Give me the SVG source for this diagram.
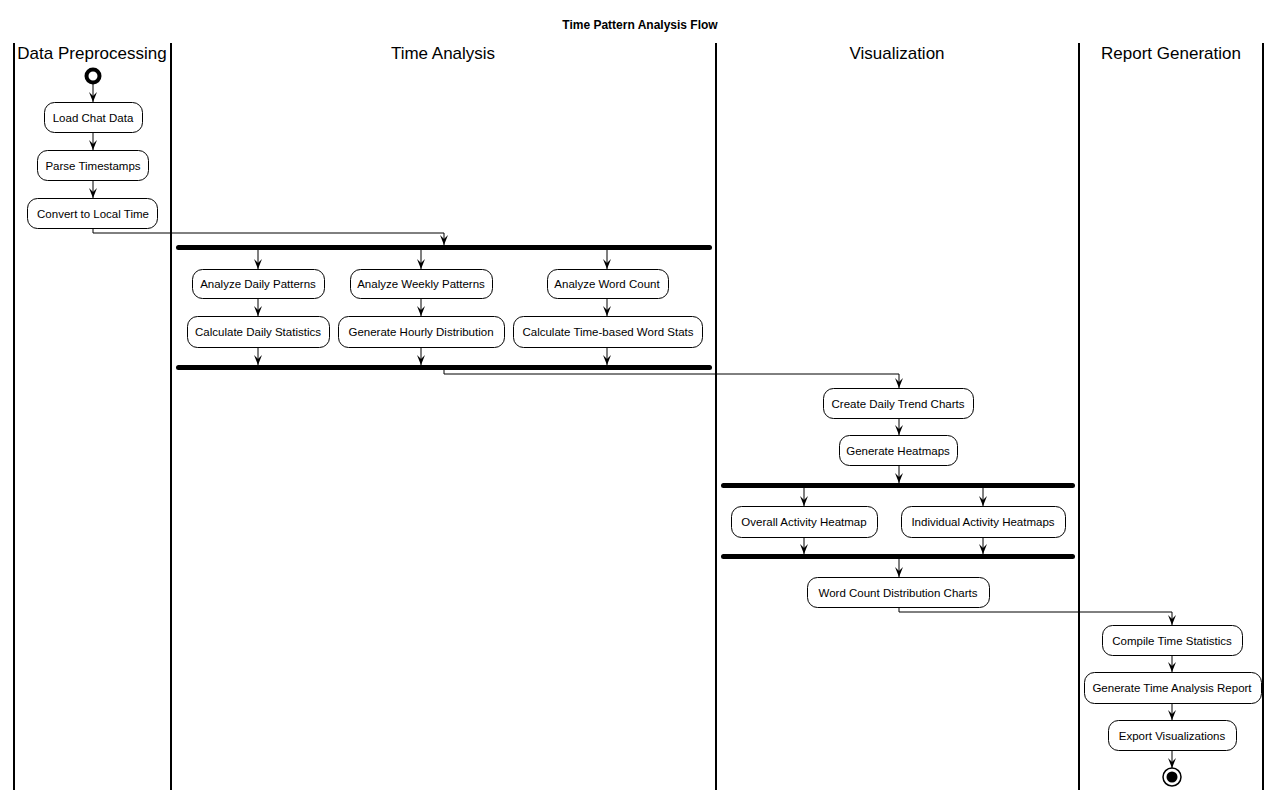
<svg xmlns="http://www.w3.org/2000/svg" width="1280" height="797" viewBox="0 0 1280 797">
<defs>
<style>
.lane{stroke:#000;stroke-width:2;fill:none}
.hdr{font-family:"Liberation Sans",Arial,sans-serif;font-size:17px;text-anchor:middle;fill:#000}
.ttl{font-family:"Liberation Sans",Arial,sans-serif;font-size:12px;font-weight:bold;text-anchor:middle;fill:#000}
.box rect{fill:#fff;stroke:#000;stroke-width:1}
.box text{font-family:"Liberation Sans",Arial,sans-serif;font-size:11.5px;text-anchor:middle;fill:#000}
.bar{fill:#000}
.conn path{fill:none;stroke:#000;stroke-width:1}
</style>
<marker id="ah" viewBox="0 0 10 10" refX="10" refY="5" markerWidth="10" markerHeight="10" markerUnits="userSpaceOnUse" orient="auto">
<path d="M0,1 L10,5 L0,9 L4,5 z" fill="#000"/>
</marker>
</defs>
<rect width="1280" height="797" fill="#fff"/>
<text class="ttl" x="640" y="29">Time Pattern Analysis Flow</text>
<g id="lanes">
<line class="lane" x1="14" y1="43" x2="14" y2="790"/>
<line class="lane" x1="171" y1="43" x2="171" y2="790"/>
<line class="lane" x1="716" y1="43" x2="716" y2="790"/>
<line class="lane" x1="1079" y1="43" x2="1079" y2="790"/>
<line class="lane" x1="1263" y1="43" x2="1263" y2="790"/>
<text class="hdr" x="92" y="59">Data Preprocessing</text>
<text class="hdr" x="443" y="59">Time Analysis</text>
<text class="hdr" x="897" y="59">Visualization</text>
<text class="hdr" x="1171" y="59">Report Generation</text>
</g>
<g id="start"><circle cx="93" cy="76" r="6.5" fill="#fff" stroke="#000" stroke-width="4"/></g>
<g id="n1" class="box"><rect x="44.5" y="102.5" width="98" height="30" rx="10"/><text x="93" y="122">Load Chat Data</text></g>
<g id="n2" class="box"><rect x="37.5" y="150.5" width="111" height="30" rx="10"/><text x="93" y="170">Parse Timestamps</text></g>
<g id="n3" class="box"><rect x="27.5" y="198.5" width="130" height="30" rx="10"/><text x="93" y="218">Convert to Local Time</text></g>
<g id="fork1"><rect class="bar" x="176" y="245" width="536" height="5" rx="2.5"/></g>
<g id="n4" class="box"><rect x="192.5" y="269.5" width="132" height="29" rx="10"/><text x="258" y="288">Analyze Daily Patterns</text></g>
<g id="n5" class="box"><rect x="350.5" y="269.5" width="142" height="29" rx="10"/><text x="421" y="288">Analyze Weekly Patterns</text></g>
<g id="n6" class="box"><rect x="547.5" y="269.5" width="121" height="29" rx="10"/><text x="607" y="288">Analyze Word Count</text></g>
<g id="n7" class="box"><rect x="187.5" y="316.5" width="142" height="31" rx="10"/><text x="258" y="336">Calculate Daily Statistics</text></g>
<g id="n8" class="box"><rect x="338.5" y="316.5" width="166" height="31" rx="10"/><text x="421" y="336">Generate Hourly Distribution</text></g>
<g id="n9" class="box"><rect x="513.5" y="316.5" width="189" height="31" rx="10"/><text x="608" y="336">Calculate Time-based Word Stats</text></g>
<g id="join1"><rect class="bar" x="176" y="365" width="536" height="5" rx="2.5"/></g>
<g id="n10" class="box"><rect x="823.5" y="388.5" width="150" height="30" rx="10"/><text x="898" y="408">Create Daily Trend Charts</text></g>
<g id="n11" class="box"><rect x="839.5" y="435.5" width="118" height="30" rx="10"/><text x="898" y="455">Generate Heatmaps</text></g>
<g id="fork2"><rect class="bar" x="721" y="483" width="354" height="5" rx="2.5"/></g>
<g id="n12" class="box"><rect x="731.5" y="506.5" width="146" height="31" rx="10"/><text x="804" y="526">Overall Activity Heatmap</text></g>
<g id="n13" class="box"><rect x="901.5" y="506.5" width="164" height="31" rx="10"/><text x="983" y="526">Individual Activity Heatmaps</text></g>
<g id="join2"><rect class="bar" x="721" y="554" width="354" height="5" rx="2.5"/></g>
<g id="n14" class="box"><rect x="807.5" y="577.5" width="182" height="30" rx="10"/><text x="898" y="597">Word Count Distribution Charts</text></g>
<g id="n15" class="box"><rect x="1102.5" y="625.5" width="140" height="30" rx="10"/><text x="1172" y="645">Compile Time Statistics</text></g>
<g id="n16" class="box"><rect x="1084.5" y="672.5" width="177" height="31" rx="10"/><text x="1172" y="692">Generate Time Analysis Report</text></g>
<g id="n17" class="box"><rect x="1108.5" y="720.5" width="128" height="30" rx="10"/><text x="1172" y="740">Export Visualizations</text></g>
<g id="end"><circle cx="1172" cy="777" r="9" fill="#fff" stroke="#000" stroke-width="1.5"/><circle cx="1172" cy="777" r="5.5" fill="#000"/></g>
<g id="connectors" class="conn">
<path d="M93,84 V102" marker-end="url(#ah)"/>
<path d="M93,133 V150" marker-end="url(#ah)"/>
<path d="M93,181 V198" marker-end="url(#ah)"/>
<path d="M93,229 V233 H444 V245" marker-end="url(#ah)"/>
<path d="M258,250 V269" marker-end="url(#ah)"/>
<path d="M421,250 V269" marker-end="url(#ah)"/>
<path d="M607,250 V269" marker-end="url(#ah)"/>
<path d="M258,299 V316" marker-end="url(#ah)"/>
<path d="M421,299 V316" marker-end="url(#ah)"/>
<path d="M607,299 V316" marker-end="url(#ah)"/>
<path d="M258,348 V365" marker-end="url(#ah)"/>
<path d="M421,348 V365" marker-end="url(#ah)"/>
<path d="M607,348 V365" marker-end="url(#ah)"/>
<path d="M444,370 V374 H899 V388" marker-end="url(#ah)"/>
<path d="M899,419 V435" marker-end="url(#ah)"/>
<path d="M899,466 V483" marker-end="url(#ah)"/>
<path d="M804,488 V506" marker-end="url(#ah)"/>
<path d="M983,488 V506" marker-end="url(#ah)"/>
<path d="M804,538 V554" marker-end="url(#ah)"/>
<path d="M983,538 V554" marker-end="url(#ah)"/>
<path d="M899,559 V577" marker-end="url(#ah)"/>
<path d="M899,608 V612 H1172 V625" marker-end="url(#ah)"/>
<path d="M1172,656 V672" marker-end="url(#ah)"/>
<path d="M1172,704 V720" marker-end="url(#ah)"/>
<path d="M1172,751 V768" marker-end="url(#ah)"/>
</g>
</svg>
